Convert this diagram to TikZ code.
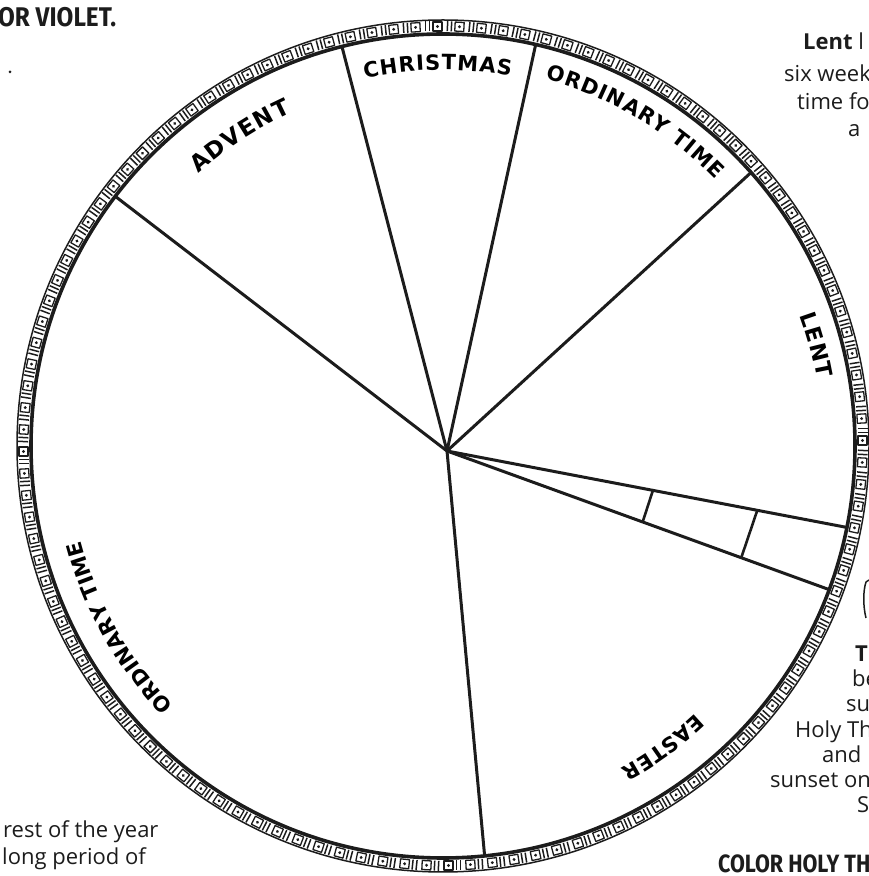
\documentclass[tikz,border=0pt]{standalone}
\usepackage{fontspec}
\setmainfont{Open Sans}
\newfontfamily\labfont{DejaVu Sans}
\newfontfamily\condfont{Fira Sans}[FakeStretch=0.86]
\newfontfamily\condwide{Fira Sans}[FakeStretch=0.9]
\usetikzlibrary{calc,decorations.text}
\definecolor{ink}{RGB}{28,28,28}
\begin{document}
\begin{tikzpicture}[x=1pt,y=1pt,color=ink,line join=round,
  spoke/.style={line width=3pt},
  crossline/.style={line width=2.6pt},
  lab/.style 2 args={decorate,decoration={text along path,text align={fit to path},
     text={|\labfont\bfseries\fontsize{#1}{24}\selectfont|#2}}},
  body/.style={font=\fontsize{22}{26}\selectfont,anchor=base west,inner sep=0pt},
  cond/.style={font=\condfont\bfseries\fontsize{25}{28}\selectfont,anchor=base west,inner sep=0pt}]
\useasboundingbox (0,0) rectangle (869,876);
\clip (0,0) rectangle (869,876);
\def\R{412}
\coordinate (C) at (443,430);
\coordinate (hub) at (447,425);
% rim
\draw[line width=3.6pt] (C) circle[radius=\R];
\draw[line width=1.5pt] (C) circle[radius=\R+14];
\foreach \i in {0,...,119}{
  \begin{scope}[shift={(C)},rotate=\i*3]
    \draw[line width=1.3pt] (\R+3,1) rectangle (\R+12,10);
    \fill (\R+7.5,5.5) circle[radius=1.6];
    \draw[line width=1.5pt] (\R+2.5,13.5) -- (\R+12.5,13.5) (\R+2.5,17.5) -- (\R+12.5,17.5);
  \end{scope}
}
% spokes
\foreach \n/\a in {1/142.7,2/104.2,3/77.0,4/41.6,5/-11.4,6/-20.4,7/-84.2}{
  \coordinate (p\n) at ($(C)+(\a:\R)$);
}
\foreach \n in {1,...,7}{\draw[spoke] (hub) -- (p\n);}
\coordinate (a1) at ($(hub)!0.515!(p5)$);
\coordinate (b1) at ($(hub)!0.512!(p6)$);
\coordinate (a2) at ($(hub)!0.776!(p5)$);
\coordinate (b2) at ($(hub)!0.770!(p6)$);
\draw[crossline] (a1) -- (b1);
\draw[crossline] (a2) -- (b2);
% labels
\path[lab={23}{ADVENT}] ($(C)+(132:366)$) arc[start angle=132,end angle=114.5,radius=366];
\path[lab={21}{CHRISTMAS}] ($(C)+(102:376)$) arc[start angle=102,end angle=79.6,radius=376];
\path[lab={21}{ORDINARY TIME}] ($(C)+(74.4:381)$) arc[start angle=74.4,end angle=44.3,radius=381];
\path[lab={22}{LENT}] ($(C)+(20.1:380)$) arc[start angle=20.1,end angle=10.2,radius=380];
\path[lab={21}{EASTER}] ($(C)+(-46.7:368)$) arc[start angle=-46.7,end angle=-61.1,radius=368];
\path[lab={21}{ORDINARY TIME}] ($(C)+(224:374)$) arc[start angle=224,end angle=194.6,radius=374];
% side texts
\node[cond,font=\condwide\bfseries\fontsize{27}{30}\selectfont] (tv) at (-2,849) {OR VIOLET.};
\fill (10,804) circle[radius=1.5];
\node[body] (t1) at (803,826) {\textbf{Lent} l};
\node[body] (t2) at (784,794) {six week};
\node[body] (t3) at (797,766) {time fo};
\node[body] (t4) at (848,739) {a};
\node[body] (r1) at (855,214) {\textbf{Th}};
\node[body] (r2) at (852,189) {be};
\node[body] (r3) at (846,164) {su};
\node[body] (r4) at (795,138) {Holy Th};
\node[body] (r5) at (822,113) {and};
\node[body] (r6) at (770,88) {sunset on};
\node[body] (r7) at (857,63) {S};
\node[cond] (r8) at (718,3) {COLOR HOLY THI};
\node[body] (l1) at (3,38) {rest of the year};
\node[body] (l2) at (2,11) {long period of};
\draw[line width=1.5pt] (869,296) -- (866,294) .. controls (863,285) and (863,270) .. (866,258);
\end{tikzpicture}
\end{document}
